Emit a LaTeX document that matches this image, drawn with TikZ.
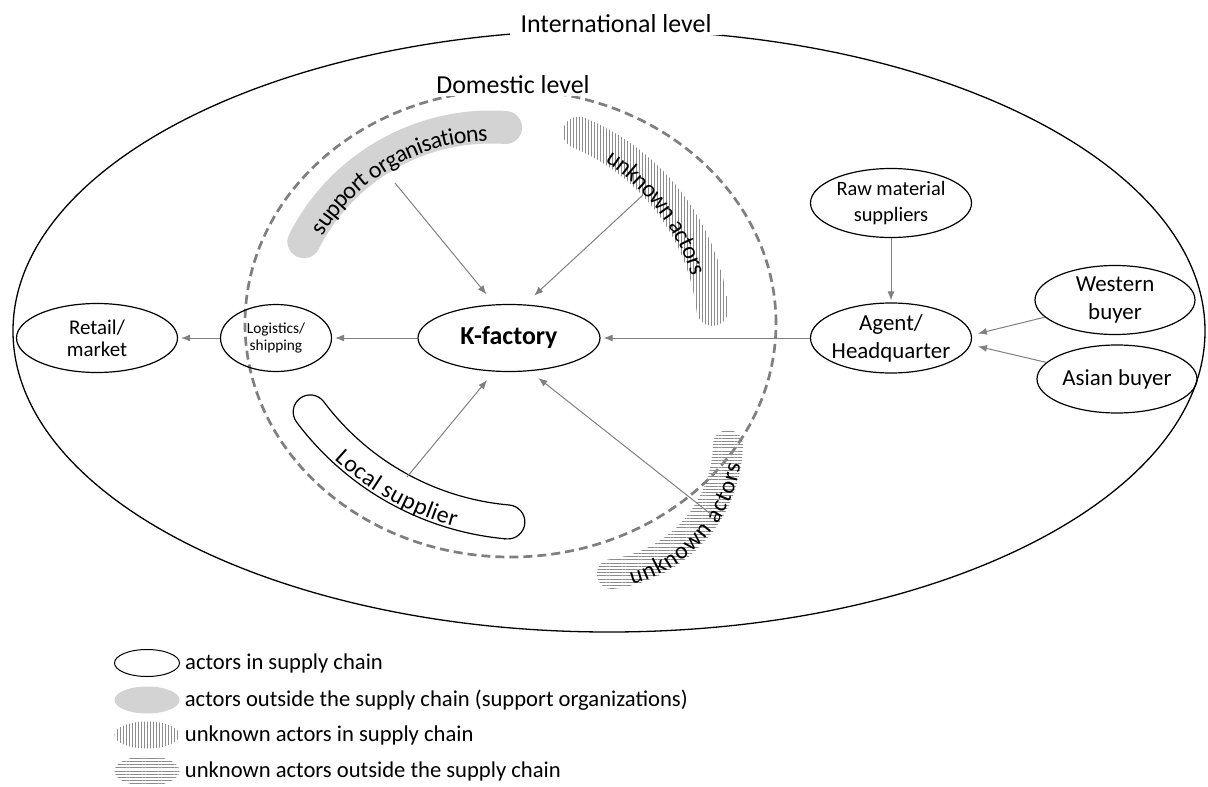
\documentclass[tikz,border=0pt]{standalone}
\usepackage{fontspec}
\setmainfont{Carlito}
\usetikzlibrary{arrows.meta,shapes.geometric,decorations.text,patterns.meta,positioning}
\definecolor{domestic_dash_colour}{HTML}{7F7F7F}
\definecolor{flow_arrow_colour}{HTML}{808080}
\definecolor{support_fill_colour}{HTML}{D3D3D3}
\definecolor{hatch_colour}{HTML}{8C8C8C}
\tikzset{
actor band/.style n args={6}{insert path={
    ([shift={({#4}:{#3+#6})}]#1,#2) arc[start angle=#4,end angle=#5,radius={#3+#6}]
    arc[start angle=#5,end angle={#5+180},radius=#6]
    arc[start angle=#5,end angle=#4,radius={#3-#6}]
    arc[start angle={#4+180},end angle={#4+360},radius=#6] -- cycle}},
band label/.style={decorate,decoration={text along path,text align=center,raise=-14bp,
    text={|\fontsize{24}{28}\selectfont|#1}}},
vertical_hatch/.style={pattern={Lines[angle=90,distance=3bp,line width=0.8bp]},pattern color=hatch_colour},
horizontal_hatch/.style={pattern={Lines[angle=0,distance=3.2bp,line width=0.8bp]},pattern color=hatch_colour}
}
\tikzstyle{level_frame} =[ellipse,draw,line width=1.3bp,inner sep=0pt]
\tikzstyle{level_label} =[fill=white,inner xsep=11bp,inner ysep=2bp,font=\fontsize{26}{30}\selectfont]
\tikzstyle{actor_node} =[ellipse,draw,line width=1.2bp,inner sep=0pt,align=center]
\tikzstyle{flow_arrow} =[draw=flow_arrow_colour,line width=1bp,->]
\tikzstyle{legend_key} =[ellipse,minimum width=65bp,minimum height=27bp,inner sep=0pt]
\tikzstyle{legend_text} =[inner sep=0pt,font=\fontsize{22.7}{26}\selectfont]
\begin{document}
\begin{tikzpicture}[x=1bp,y=-1bp,>={Latex[length=9bp,width=7bp]}]
    \useasboundingbox (0,0) rectangle (1208,787);

    % International and domestic level
    \node[level_frame,minimum width=1192bp,minimum height=602bp] (international_level_frame) at (609,331) {};
    \node[level_frame,draw=domestic_dash_colour,line width=2.7bp,dash pattern=on 9bp off 5bp,
          minimum width=531bp,minimum height=467bp] (domestic_level_frame) at (510.5,323.5) {};

    % Bands round the factory
    \fill[support_fill_colour,actor band={491}{337}{210}{207}{274}{16.5}];
    \path[vertical_hatch,actor band={495}{335}{219}{292.5}{353.4}{16}];
    \path[horizontal_hatch,actor band={595}{442}{133}{1.3}{82.7}{15}];
    \draw[line width=1.2bp,fill=white,actor band={532}{246}{277}{95}{143.2}{17}];

    \path[band label=support organisations] ([shift={(205:210)}]491,337) arc[start angle=205,end angle=275,radius=210];
    \path[band label=unknown actors] ([shift={(292.5:219)}]495,335) arc[start angle=292.5,end angle=353.4,radius=219];
    \path[band label=unknown actors] ([shift={(82.7:133)}]595,442) arc[start angle=82.7,end angle=1.3,radius=133];
    \path[band label=Local supplier] ([shift={(143.2:277)}]532,246) arc[start angle=143.2,end angle=95,radius=277];

    \coordinate (support_org_tail) at (395,183);
    \coordinate (unknown_in_tail) at (643,195);
    \coordinate (local_supplier_tail) at (407,477);
    \coordinate (unknown_out_tail) at (712,515);

    % Level labels
    \node[level_label] (international_label) at (616,24) {International level};
    \node[level_label] (domestic_label) at (513,85) {Domestic level};

    % Actors
    \node[actor_node,minimum width=182bp,minimum height=67bp,font=\fontsize{26}{30}\selectfont\bfseries] (k_factory) at (509,338) {K-factory};
    \node[actor_node,minimum width=111bp,minimum height=67bp,font=\fontsize{15.4}{17}\selectfont] (logistics_shipping) at (276,338) {Logistics/\\shipping};
    \node[actor_node,minimum width=161bp,minimum height=69bp,font=\fontsize{21}{22}\selectfont] (retail_market) at (97,338) {Retail/\\market};
    \node[actor_node,inner xsep=-3bp,minimum width=161bp,minimum height=70bp,font=\fontsize{23}{28}\selectfont] (agent_headquarter) at (891,338) {Agent/\\Headquarter};
    \node[actor_node,minimum width=161bp,minimum height=69bp,font=\fontsize{20.5}{26}\selectfont] (raw_material_suppliers) at (891,203) {Raw material\\suppliers};
    \node[actor_node,minimum width=160bp,minimum height=69bp,font=\fontsize{23}{28}\selectfont] (western_buyer) at (1115,300) {Western\\buyer};
    \node[actor_node,minimum width=160bp,minimum height=68bp,font=\fontsize{23}{28}\selectfont] (asian_buyer) at (1117,379) {Asian buyer};

    % Flows
    \draw[flow_arrow,shorten >=3bp] (agent_headquarter) -- (k_factory);
    \draw[flow_arrow,shorten >=3bp] (k_factory) -- (logistics_shipping);
    \draw[flow_arrow,shorten >=3bp] (logistics_shipping) -- (retail_market);
    \draw[flow_arrow,shorten >=2bp] (raw_material_suppliers) -- (agent_headquarter);
    \draw[flow_arrow,shorten >=6bp] (western_buyer) -- ([yshift=3bp]agent_headquarter.east);
    \draw[flow_arrow,shorten >=6bp] (asian_buyer) -- ([yshift=-7bp]agent_headquarter.east);
    \draw[flow_arrow,shorten >=13bp] (support_org_tail) -- (k_factory.113);
    \draw[flow_arrow,shorten >=13bp] (unknown_in_tail) -- (k_factory.65);
    \draw[flow_arrow,shorten >=11bp] (local_supplier_tail) -- (k_factory.246);
    \draw[flow_arrow,shorten >=11bp] (unknown_out_tail) -- (k_factory.302);

    % Legend
    \node[legend_key,draw,line width=1bp] (legend_in_chain) at (147,663) {};
    \node[legend_key,fill=support_fill_colour] (legend_support) at (147,700) {};
    \node[legend_key,vertical_hatch] (legend_unknown_in) at (147,735) {};
    \node[legend_key,horizontal_hatch,minimum height=30bp] (legend_unknown_out) at (147,771) {};
    \node[legend_text,right=5bp of legend_in_chain] (legend_in_chain_text) {actors in supply chain};
    \node[legend_text,right=5bp of legend_support] (legend_support_text) {actors outside the supply chain (support organizations)};
    \node[legend_text,right=5bp of legend_unknown_in] (legend_unknown_in_text) {unknown actors in supply chain};
    \node[legend_text,right=5bp of legend_unknown_out] (legend_unknown_out_text) {unknown actors outside the supply chain};

\end{tikzpicture}
\end{document}
